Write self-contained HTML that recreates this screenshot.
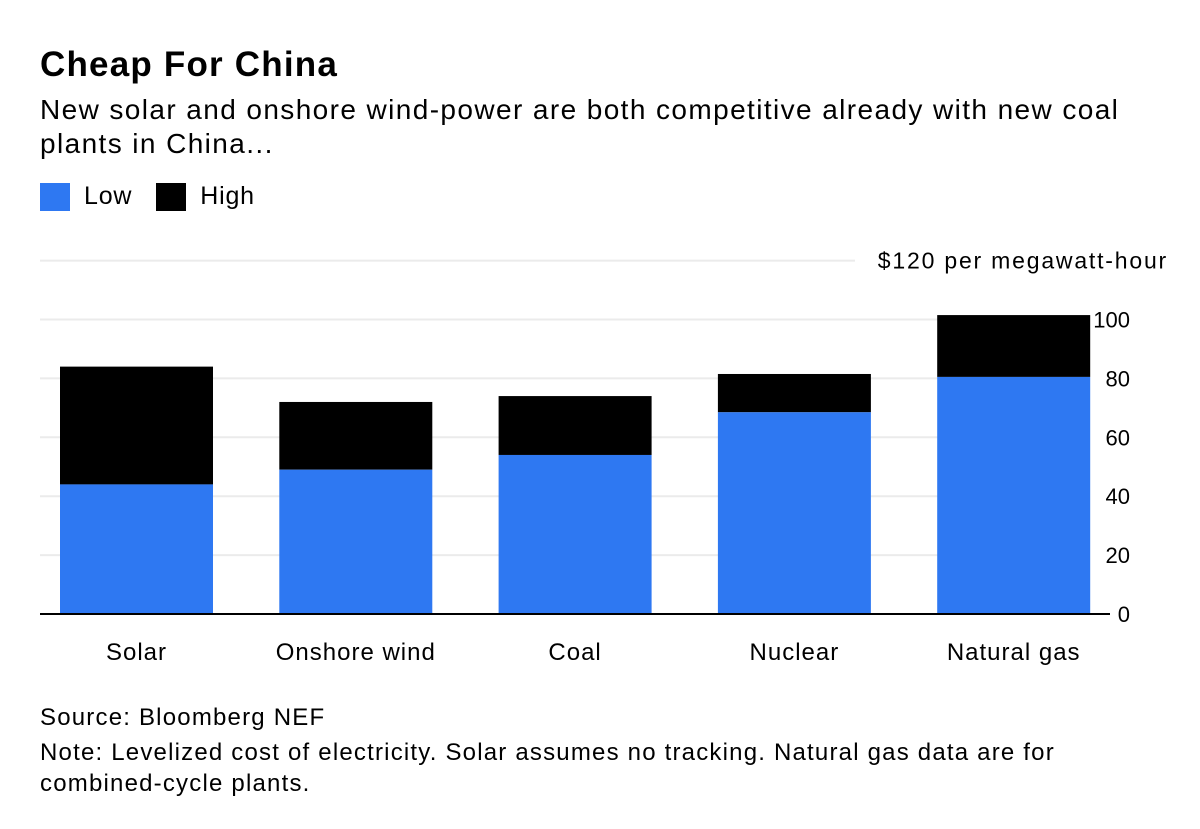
<!DOCTYPE html>
<html><head><meta charset="utf-8"><style>
body{margin:0;background:#fff;font-family:"Liberation Sans",Arial,sans-serif;}
.wrap{position:relative;width:1200px;height:829px;overflow:hidden;}
h1{position:absolute;left:40px;top:45px;margin:0;font-size:35px;font-weight:bold;color:#000;letter-spacing:1.2px}
.sub{position:absolute;left:40px;top:93px;font-size:28px;letter-spacing:1.4px;line-height:34px;color:#000;width:1130px}
.legend{position:absolute;left:40px;top:182px;font-size:25px;letter-spacing:0.8px;display:flex;align-items:center}
.sw{width:30px;height:28px;display:inline-block;margin-right:14px}
.foot{position:absolute;left:40px;font-size:24px;letter-spacing:1.2px;line-height:31px;color:#000;white-space:nowrap}
</style></head><body><div class="wrap">
<h1>Cheap For China</h1>
<div class="sub">New solar and onshore wind-power are both competitive already with new coal<br>plants in China...</div>
<div class="legend">
<span style="display:flex;align-items:center"><span class="sw" style="background:#2e78f2"></span>Low</span>
<span style="display:flex;align-items:center;margin-left:24px"><span class="sw" style="background:#000"></span>High</span>
</div>
<svg id="svg" width="1200" height="829" style="position:absolute;left:0;top:0"></svg>
<div class="foot" style="top:702px">Source: Bloomberg NEF</div>
<div class="foot" style="top:737px">Note: Levelized cost of electricity. Solar assumes no tracking. Natural gas data are for<br>combined-cycle plants.</div>
</div>
<script>
const categories=["Solar","Onshore wind","Coal","Nuclear","Natural gas"];
const lowValues=[44,49,54,68.5,80.5];
const highValues=[84,72,74,81.5,101.5];
const tickValues=[0,20,40,60,80,100,120];
const tickLabels=["0","20","40","60","80","100","$120 per megawatt-hour"];
const NS="http://www.w3.org/2000/svg";
const svg=document.getElementById('svg');
const y=v=>614-v*2.945;
const x=i=>60+i*219.3;
const bw=153;
function mk(t,a){const e=document.createElementNS(NS,t);for(const k in a)e.setAttribute(k,a[k]);svg.appendChild(e);return e;}
tickValues.forEach((v,i)=>{
 if(v>0){const g=mk('line',{x1:40,x2:v===120?855:1090,y1:y(v),y2:y(v),stroke:'#ebebeb','stroke-width':2});
 
 }
 const t=mk('text',{x:v===120?1168:1130,y:y(v)+8,'text-anchor':'end','font-size':v===120?23:22,'letter-spacing':v===120?1.8:0,fill:'#000'});
 t.textContent=tickLabels[i];
 
 
});
categories.forEach((c,i)=>{
 const h=mk('rect',{x:x(i),y:y(highValues[i]),width:bw,height:y(lowValues[i])-y(highValues[i]),fill:'#000'});
 
 
 const l=mk('rect',{x:x(i),y:y(lowValues[i]),width:bw,height:y(0)-y(lowValues[i]),fill:'#2e78f2'});
 
 
 const t=mk('text',{x:x(i)+bw/2,y:660,'text-anchor':'middle','font-size':24,'letter-spacing':1,fill:'#000'});
 t.textContent=c;
 
 
});
const ax=mk('line',{x1:40,x2:1110,y1:614,y2:614,stroke:'#000','stroke-width':2});


</script></body></html>
